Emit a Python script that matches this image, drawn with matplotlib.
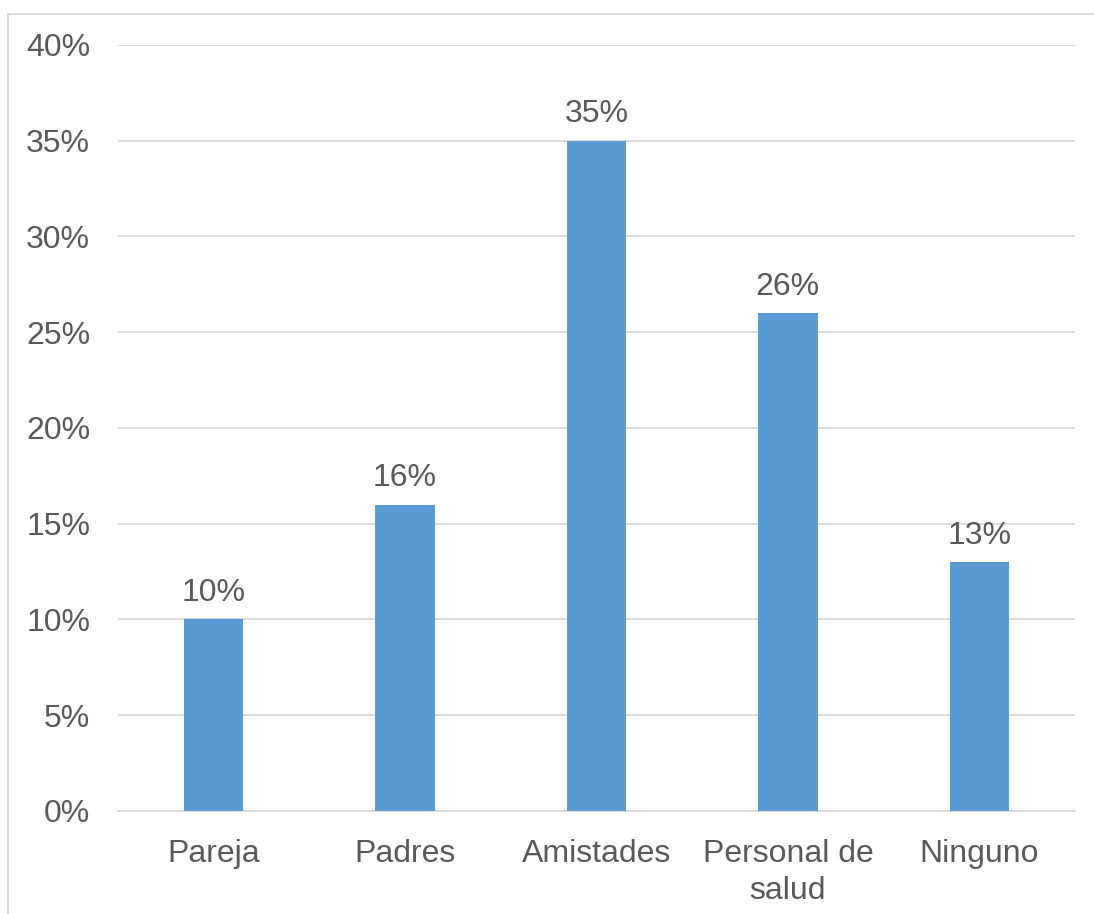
import matplotlib.pyplot as plt
from matplotlib.patches import Rectangle
from matplotlib.ticker import FuncFormatter

categories = ['Pareja', 'Padres', 'Amistades', 'Personal de\nsalud', 'Ninguno']
values = [10, 16, 35, 26, 13]
yticks = [0, 5, 10, 15, 20, 25, 30, 35, 40]

plt.rcParams['font.family'] = ['Liberation Sans', 'DejaVu Sans']
txt = '#595959'
fs = 23

fig = plt.figure(figsize=(10.94, 9.14), dpi=100)
ax = fig.add_axes([0.1079, 0.1127, 0.8747, 0.8381])

x = range(len(categories))
ax.bar(x, values, width=0.31, color='#5B9BD5', zorder=3)
for i, v in zip(x, values):
    ax.text(i, v + 0.6, f'{v}%', ha='center', va='bottom', fontsize=fs, color=txt)

ax.set_ylim(0, 40)
ax.set_xlim(-0.5, len(categories) - 0.5)
ax.set_yticks(yticks)
ax.yaxis.set_major_formatter(FuncFormatter(lambda v, p: f'{int(v)}%'))
ax.set_xticks(list(x))
ax.set_xticklabels(categories, linespacing=1.3)
ax.grid(axis='y', color='#D9D9D9', linewidth=1.3, zorder=0)
ax.tick_params(axis='both', length=0, labelsize=fs, labelcolor=txt)
ax.tick_params(axis='y', pad=20)
ax.tick_params(axis='x', pad=20)
for s in ['top', 'right', 'left']:
    ax.spines[s].set_visible(False)
ax.spines['bottom'].set_color('#D9D9D9')
ax.spines['bottom'].set_linewidth(1.3)

# chart border
fig.patches.append(Rectangle((8 / 1094, -0.1), 1.2, 1 - 14 / 914 + 0.1,
                             transform=fig.transFigure, fill=False,
                             edgecolor='#D9D9D9', linewidth=1.3))

fig.savefig('out.png', dpi=100)
